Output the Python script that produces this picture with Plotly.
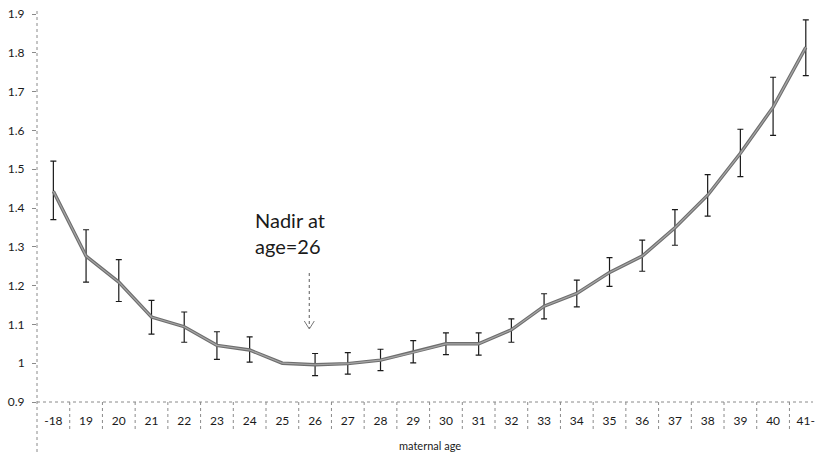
import plotly.graph_objects as go

# ---- data ----
ages = ["-18", "19", "20", "21", "22", "23", "24", "25", "26", "27", "28", "29",
        "30", "31", "32", "33", "34", "35", "36", "37", "38", "39", "40", "41-"]
ratio = [1.443, 1.276, 1.209, 1.119, 1.094, 1.046, 1.034, 1.000, 0.996, 0.999, 1.008, 1.028,
         1.050, 1.050, 1.086, 1.147, 1.180, 1.234, 1.276, 1.349, 1.433, 1.541, 1.660, 1.814]
ci_upper = [1.521, 1.344, 1.267, 1.162, 1.132, 1.081, 1.068, None, 1.025, 1.027, 1.036, 1.058,
            1.078, 1.078, 1.114, 1.179, 1.214, 1.272, 1.317, 1.396, 1.486, 1.603, 1.737, 1.885]
ci_lower = [1.370, 1.209, 1.159, 1.075, 1.054, 1.010, 1.003, None, 0.968, 0.972, 0.981, 1.001,
            1.022, 1.021, 1.054, 1.114, 1.145, 1.198, 1.237, 1.304, 1.379, 1.481, 1.587, 1.741]
y_tickvals = [0.9, 1.0, 1.1, 1.2, 1.3, 1.4, 1.5, 1.6, 1.7, 1.8, 1.9]
y_ticktext = ["0.9", "1", "1.1", "1.2", "1.3", "1.4", "1.5", "1.6", "1.7", "1.8", "1.9"]
x_title = "maternal age"
note_text = "Nadir at<br>age=26"

# ---- layout geometry ----
W, H = 815, 456
L, R, T, B = 37, 0, 14, 54
PW, PH = W - L - R, H - T - B


def px(x):
    return (x - L) / PW


def py(y):
    return (H - B - y) / PH


FONT = "Lato, Carlito, Calibri, sans-serif"
GRID = "#8a8a8a"

fig = go.Figure()

# error bars (reference category has none)
err_y = [r if u is not None else None for r, u in zip(ratio, ci_upper)]
err_plus = [(u - r) if u is not None else None for r, u in zip(ratio, ci_upper)]
err_minus = [(r - l) if l is not None else None for r, l in zip(ratio, ci_lower)]
fig.add_trace(go.Scatter(
    x=ages, y=err_y, mode="markers",
    marker=dict(size=0.1, color="rgba(0,0,0,0)"),
    error_y=dict(type="data", symmetric=False, array=err_plus, arrayminus=err_minus,
                 color="#1a1a1a", thickness=1.2, width=3),
    hoverinfo="skip", showlegend=False,
))
# line: dark outline + lighter core
fig.add_trace(go.Scatter(x=ages, y=ratio, mode="lines",
                         line=dict(color="#6e6e6e", width=3.4), showlegend=False))
fig.add_trace(go.Scatter(x=ages, y=ratio, mode="lines",
                         line=dict(color="#a6a6a6", width=1.2), showlegend=False))

shapes = []
# dotted axis lines
shapes.append(dict(type="line", xref="paper", yref="paper", x0=0, x1=0, y0=py(452), y1=py(10),
                   line=dict(color=GRID, width=1, dash="dot")))
shapes.append(dict(type="line", xref="paper", yref="paper", x0=0, x1=1, y0=0, y1=0,
                   line=dict(color=GRID, width=1, dash="dot")))
# category separators below the axis
for i in range(len(ages) - 1):
    shapes.append(dict(type="line", xref="x", yref="paper", x0=i + 0.5, x1=i + 0.5,
                       y0=0, y1=py(430), line=dict(color=GRID, width=1, dash="dot")))
# dotted arrow for annotation
shapes.append(dict(type="line", xref="paper", yref="paper", x0=px(310), x1=px(310),
                   y0=py(273), y1=py(328), line=dict(color="#777777", width=1.2, dash="dot")))
shapes.append(dict(type="path", xref="paper", yref="paper",
                   path=f"M {px(305)} {py(321)} L {px(310)} {py(329)} L {px(315)} {py(321)}",
                   line=dict(color="#777777", width=1)))

annotations = [
    dict(text=note_text, xref="paper", yref="paper", x=px(254), y=py(206),
         xanchor="left", yanchor="top", align="left", showarrow=False,
         font=dict(family=FONT, size=20, color="#1a1a1a")),
    dict(text=x_title, xref="paper", yref="paper", x=px(431), y=py(445),
         xanchor="center", yanchor="middle", showarrow=False,
         font=dict(family=FONT, size=11, color="#1a1a1a")),
]

fig.update_layout(
    width=W, height=H,
    margin=dict(l=L, r=R, t=T, b=B, pad=0),
    paper_bgcolor="white", plot_bgcolor="white",
    font=dict(family=FONT, size=12, color="#1a1a1a"),
    showlegend=False,
    shapes=shapes, annotations=annotations,
    xaxis=dict(type="category", range=[-0.5, 23.22], showgrid=False, zeroline=False,
               showline=False, ticks="", tickfont=dict(size=12), ticklabelstandoff=10),
    yaxis=dict(range=[0.9, 1.9], tickvals=y_tickvals, ticktext=y_ticktext,
               showgrid=False, zeroline=False, showline=False,
               ticks="outside", ticklen=4, tickcolor=GRID, tickwidth=1,
               tickfont=dict(size=12), ticklabelstandoff=5),
)

fig.write_html("out.html")
